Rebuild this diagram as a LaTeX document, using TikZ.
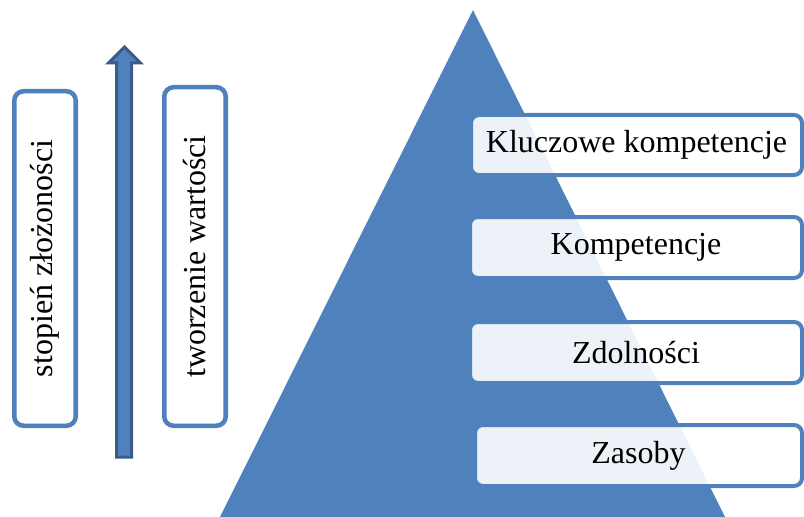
\documentclass[tikz,border=0pt]{standalone}
\usepackage{fontspec}
\setmainfont{Liberation Serif}
\definecolor{accent}{HTML}{4F81BD}
\definecolor{accentdark}{HTML}{385D8A}
\begin{document}
\begin{tikzpicture}[x=0.75pt,y=-0.75pt,
  txt/.style={font=\fontsize{24}{29}\selectfont, text=black},
  levelbox/.style={txt, draw=accent, line width=3pt, rounded corners=6pt,
    fill=white, fill opacity=0.9, text opacity=1, inner sep=0pt},
  sidebox/.style={txt, draw=accent, line width=3.4pt, rounded corners=7pt,
    fill=white, rotate=90, inner sep=0pt}]
  \useasboundingbox (0,0) rectangle (804,517);

  % pyramid
  \fill[accent] (473,10) -- (725,517) -- (220,517) -- cycle;

  % level labels laid over the pyramid
  \node[levelbox, minimum width=248.25pt, minimum height=45pt] (kluczowe) at (636.5,145) {Kluczowe kompetencje};
  \node[levelbox, minimum width=249pt, minimum height=45.75pt] (kompetencje) at (636,247.5) {Kompetencje};
  \node[levelbox, minimum width=249pt, minimum height=45.75pt] (zdolnosci) at (636,352.5) {Zdolności};
  \node[levelbox, minimum width=245.25pt, minimum height=45.75pt] (zasoby) at (638.5,455.5) {Zasoby};

  % side labels
  \node[sidebox, minimum width=250.9pt, minimum height=46.1pt] (zlozonosc) at (45,258.5) {stopień złożoności};
  \node[sidebox, minimum width=253.9pt, minimum height=46.1pt] (wartosc) at (195,256.5) {tworzenie wartości};

  % upward arrow
  \filldraw[fill=accent, draw=accentdark, line width=2.25pt, line join=miter]
    (116.5,457) -- (116.5,63) -- (108.5,63) -- (124.5,47) -- (140.5,63)
    -- (131.5,63) -- (131.5,457) -- cycle;
\end{tikzpicture}
\end{document}
